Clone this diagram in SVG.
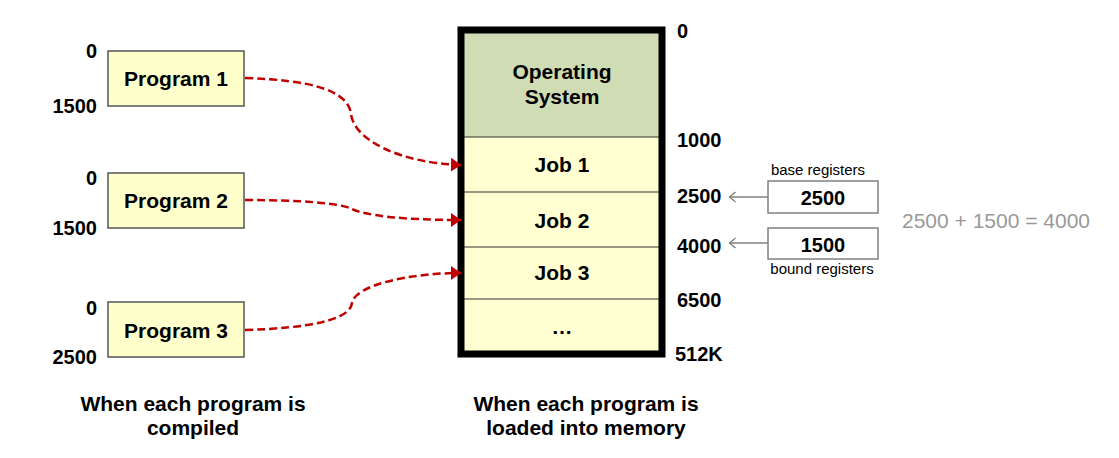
<svg xmlns="http://www.w3.org/2000/svg" width="1119" height="458" viewBox="0 0 1119 458">
<style>
.b{font-family:"Liberation Sans",Arial,sans-serif;font-weight:bold;fill:#000}
.n{font-size:20px}
.l{font-size:21px;text-anchor:middle}
.s{font-family:"Liberation Sans",Arial,sans-serif;font-size:15px;fill:#000;text-anchor:middle}
.prog{fill:#ffffcc;stroke:#555;stroke-width:1.5}
.job{fill:#ffffd2}
.div{stroke:#333;stroke-width:1.2}
.conn{fill:none;stroke:#c00000;stroke-width:2.5;stroke-dasharray:8 4}
.reg{fill:#fff;stroke:#808080;stroke-width:1.5}
.garr{fill:none;stroke:#808080;stroke-width:1.5}
</style>
<defs>
<marker id="ah" viewBox="0 0 10 14" refX="10" refY="7" markerWidth="10" markerHeight="14" markerUnits="userSpaceOnUse" orient="auto">
<path d="M0,0 L10,7 L0,14 Z" fill="#c00000"/>
</marker>
<marker id="ga" viewBox="0 0 8 12" refX="7.5" refY="6" markerWidth="8" markerHeight="12" markerUnits="userSpaceOnUse" orient="auto">
<path d="M1,1 L7,6 L1,11" fill="none" stroke="#808080" stroke-width="1.3"/>
</marker>
</defs>
<rect width="1119" height="458" fill="#fff"/>

<g id="program1">
<rect class="prog" x="108" y="51" width="136" height="55"/>
<text class="b l" x="176" y="86">Program 1</text>
<text class="b n" x="97" y="58" text-anchor="end">0</text>
<text class="b n" x="97" y="113" text-anchor="end">1500</text>
</g>
<g id="program2">
<rect class="prog" x="108" y="173" width="136" height="55"/>
<text class="b l" x="176" y="208">Program 2</text>
<text class="b n" x="97" y="185" text-anchor="end">0</text>
<text class="b n" x="97" y="235" text-anchor="end">1500</text>
</g>
<g id="program3">
<rect class="prog" x="108" y="302" width="136" height="55"/>
<text class="b l" x="176" y="338">Program 3</text>
<text class="b n" x="97" y="315" text-anchor="end">0</text>
<text class="b n" x="97" y="364" text-anchor="end">2500</text>
</g>

<g id="memory">
<rect x="461" y="30" width="201" height="107" fill="#d0dcb4"/>
<rect class="job" x="461" y="137" width="201" height="217"/>
<line class="div" x1="461" y1="137" x2="662" y2="137"/>
<line class="div" x1="461" y1="192" x2="662" y2="192"/>
<line class="div" x1="461" y1="247" x2="662" y2="247"/>
<line class="div" x1="461" y1="299" x2="662" y2="299"/>
<rect x="461" y="30" width="201" height="324" fill="none" stroke="#000" stroke-width="7"/>
<text class="b l" x="562" y="79">Operating</text>
<text class="b l" x="562" y="104">System</text>
<text class="b l" x="562" y="172">Job 1</text>
<text class="b l" x="562" y="228">Job 2</text>
<text class="b l" x="562" y="280">Job 3</text>
<text class="b l" x="562" y="334">…</text>
<text class="b n" x="677" y="38">0</text>
<text class="b n" x="677" y="147">1000</text>
<text class="b n" x="677" y="203">2500</text>
<text class="b n" x="677" y="253">4000</text>
<text class="b n" x="677" y="307">6500</text>
<text class="b n" x="675" y="361">512K</text>
</g>

<g id="base-register">
<text class="s" x="818" y="175">base registers</text>
<rect class="reg" x="768" y="181" width="110" height="32"/>
<text class="b l" x="823" y="205" style="font-size:20px">2500</text>
</g>
<g id="bound-register">
<rect class="reg" x="768" y="228" width="110" height="31"/>
<text class="b l" x="823" y="252" style="font-size:20px">1500</text>
<text class="s" x="822" y="274">bound registers</text>
</g>
<g id="formula">
<text x="902" y="228" style="font-family:'Liberation Sans',Arial,sans-serif;font-size:21px;fill:#999">2500 + 1500 = 4000</text>
</g>

<g id="connectors">
<path class="conn" d="M245,78 C310,80 348,90 351,114 C354,140 400,163 461,165" marker-end="url(#ah)"/>
<path class="conn" d="M245,200 C300,200 340,203 352,209 C364,215 400,220 461,220" marker-end="url(#ah)"/>
<path class="conn" d="M245,330 C310,328 350,320 352,303 C355,285 410,273 461,273" marker-end="url(#ah)"/>
<path class="garr" d="M768,197 L729,197" marker-end="url(#ga)"/>
<path class="garr" d="M768,243 L729,243" marker-end="url(#ga)"/>
</g>

<g id="captions">
<text class="b l" x="193" y="411">When each program is</text>
<text class="b l" x="193" y="435">compiled</text>
<text class="b l" x="586" y="411">When each program is</text>
<text class="b l" x="586" y="435">loaded into memory</text>
</g>
</svg>
